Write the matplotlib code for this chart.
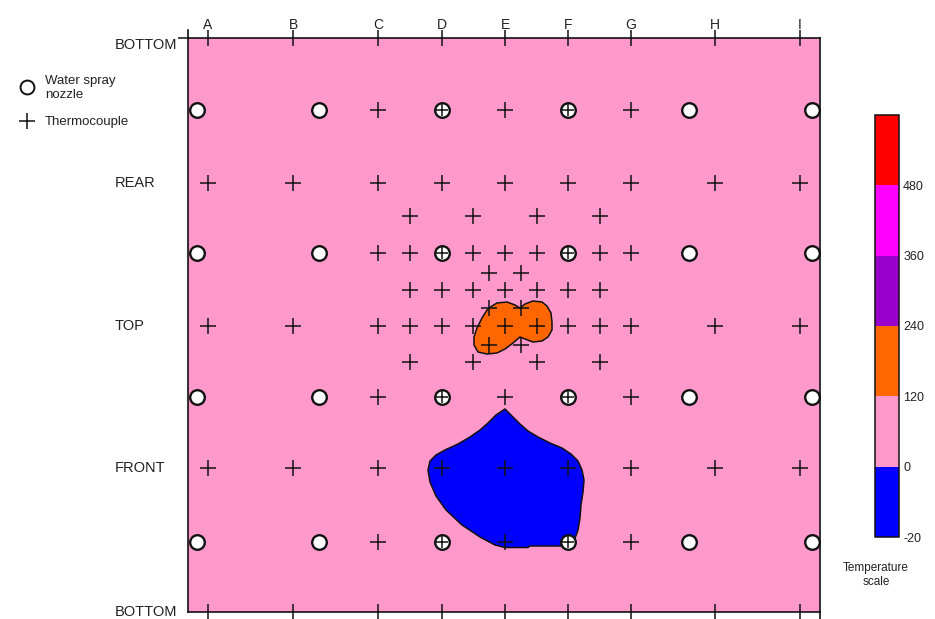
import numpy as np
import matplotlib
matplotlib.use("Agg")
import matplotlib.pyplot as plt
from matplotlib.colors import ListedColormap, BoundaryNorm
from matplotlib.cm import ScalarMappable
from matplotlib.lines import Line2D

plt.rcParams["font.family"] = ["Liberation Sans", "DejaVu Sans"]
plt.rcParams["axes.unicode_minus"] = False

# ---- layout of the unfolded enclosure (horizontal columns, vertical faces) ----
col_labels = ["A", "B", "C", "D", "E", "F", "G", "H", "I"]
col_x = [-297, -212, -127, -63, 0, 63, 126, 210, 295]
face_labels = ["BOTTOM", "REAR", "TOP", "FRONT", "BOTTOM"]
face_y = [0, 145, 288, 430, 574]
x_range = (-317, 315)
y_range = (574, 0)

# ---- water spray nozzles ----
nozzle_x = [-308, -186, -63, 63, 184, 307]
nozzle_rows = [72, 215, 359, 504]

# ---- thermocouples, listed row by row ----
tc_rows = {
    72:  [-127, -63, 0, 63, 126],
    145: [-297, -212, -127, -63, 0, 63, 126, 210, 295],
    178: [-95, -32, 32, 95],
    215: [-127, -95, -63, -32, 0, 32, 63, 95, 126],
    235: [-16, 16],
    252: [-95, -63, -32, 0, 32, 63, 95],
    270: [-16, 16],
    288: [-297, -212, -127, -95, -63, -32, 0, 32, 63, 95, 126, 210, 295],
    307: [-16, 16],
    324: [-95, -32, 32, 95],
    359: [-127, -63, 0, 63, 126],
    430: [-297, -212, -127, -63, 0, 63, 126, 210, 295],
    504: [-127, -63, 0, 63, 126],
}

# ---- temperature scale ----
temp_bounds = [-20, 0, 120, 240, 360, 480, 600]
band_colors = ["#0000FF", "#FF99CC", "#FF6600", "#9900CC", "#FF00FF", "#FF0000"]
ambient_temp = 60          # surrounding field lies in the 0-120 band

# ---- isotherm zones (outline x, outline y, representative temperature) ----
cold_x = [0, 7, 15, 23, 33, 45, 57, 66, 73, 77, 79, 78, 76, 75, 73, 69, 63, 53,
          25, 23, 0, -10, -25, -43, -59, -69, -75, -77, -75, -69, -60, -47,
          -35, -25, -17, -9]
cold_y = [371, 378, 386, 393, 399, 405, 410, 416, 423, 432, 442, 454, 467, 480,
          492, 503, 508, 508, 508, 509.5, 509.5, 507, 499, 487, 472, 458, 444,
          432, 423, 417, 412, 406, 399, 392, 385, 377]
cold_temp = -10

hot_x = [-8, 2, 10, 15, 20, 28, 37, 42, 46, 47, 47, 43, 37, 28, 20, 15, 8, 0,
         -8, -18, -27, -31, -31, -28, -23, -18, -13]
hot_y = [265, 264, 267, 270, 266, 263, 264, 268, 275, 284, 292, 299, 303, 304,
         301, 299, 305, 311, 315, 316, 314, 307, 299, 290, 280, 272, 268]
hot_temp = 180

cmap = ListedColormap(band_colors)
norm = BoundaryNorm(temp_bounds, cmap.N)

W, H = 935, 619
fig = plt.figure(figsize=(W / 100, H / 100), dpi=100)
ax = fig.add_axes([188 / W, (H - 612) / H, 632 / W, 574 / H])
ax.set_xlim(*x_range)
ax.set_ylim(*y_range)
ax.set_facecolor(cmap(norm(ambient_temp)))

ink = "#111111"
txt = "#222222"
for zx, zy, zt in [(cold_x, cold_y, cold_temp), (hot_x, hot_y, hot_temp)]:
    ax.fill(zx, zy, facecolor=cmap(norm(zt)), edgecolor=ink, linewidth=1.1, zorder=2)

# thermocouples
tcx, tcy = [], []
for y, xs in tc_rows.items():
    tcx += xs
    tcy += [y] * len(xs)
tcx = np.array(tcx, float)
tcy = np.array(tcy, float)
nx, ny = np.meshgrid(nozzle_x, nozzle_rows)
nx, ny = nx.ravel(), ny.ravel()
shared = np.array([np.any(np.isclose(nx, a) & np.isclose(ny, b)) for a, b in zip(tcx, tcy)])

ax.plot(tcx[~shared], tcy[~shared], ls="none", marker="+", ms=12, mew=1.1,
        color=ink, zorder=3)
ax.plot(nx, ny, ls="none", marker="o", ms=10.5, mfc="white", mec=ink, mew=1.7,
        zorder=4)
ax.plot(tcx[shared], tcy[shared], ls="none", marker="+", ms=8, mew=1.1,
        color=ink, zorder=5)

for s in ax.spines.values():
    s.set_linewidth(1.2)
    s.set_color(ink)

# column ticks on top and bottom
ax.set_xticks(col_x, col_labels)
ax.tick_params(axis="x", top=True, bottom=True, labeltop=True, labelbottom=False,
               direction="inout", length=11.5, width=1.1, color=ink, pad=-1.5,
               labelsize=10, labelcolor=txt)

# face labels on the left, left-aligned
ax.set_yticks(face_y, face_labels)
ax.tick_params(axis="y", left=True, right=False, direction="out", length=7,
               width=1.1, color=ink, pad=45.5, labelsize=10.5, labelcolor=txt)
for i, t in enumerate(ax.yaxis.get_major_ticks()):
    if i != 0:
        t.tick1line.set_visible(False)
for i, lab in enumerate(ax.get_yticklabels()):
    lab.set_horizontalalignment("left")
    lab.set_verticalalignment("top" if i == 0 else "center")

# small spine overhangs
ax.plot([0, 0], [1, 1 + 8 / 574], transform=ax.transAxes, color=ink, lw=1.2,
        clip_on=False)
ax.plot([1, 1], [0, -7 / 574], transform=ax.transAxes, color=ink, lw=1.2,
        clip_on=False)

# legend keys
key_x = 27 / W
fig.add_artist(Line2D([key_x], [1 - 87 / H], transform=fig.transFigure, ls="none",
                      marker="o", ms=10, mfc="white", mec=ink, mew=1.4))
fig.add_artist(Line2D([key_x], [1 - 121 / H], transform=fig.transFigure, ls="none",
                      marker="+", ms=11, mew=1.1, color=ink))
fig.text(45 / W, 1 - 88 / H, "Water spray\nnozzle", ha="left", va="center",
         fontsize=9.5, linespacing=1.2, color=txt)
fig.text(45 / W, 1 - 122 / H, "Thermocouple", ha="left", va="center",
         fontsize=9.5, color=txt)

# temperature scale
cax = fig.add_axes([875 / W, (H - 537) / H, 24 / W, 422 / H])
cb = fig.colorbar(ScalarMappable(norm=norm, cmap=cmap), cax=cax,
                  spacing="uniform", ticks=temp_bounds[:-1])
cb.outline.set_linewidth(1.1)
cb.outline.set_edgecolor(ink)
cax.minorticks_off()
cax.tick_params(which="both", length=0, labelsize=9, pad=3, labelcolor=txt)
fig.text(876 / W, 1 - 575 / H, "Temperature\nscale", ha="center", va="center",
         fontsize=8.5, linespacing=1.15, color=txt)

fig.savefig("out.png", dpi=100)
